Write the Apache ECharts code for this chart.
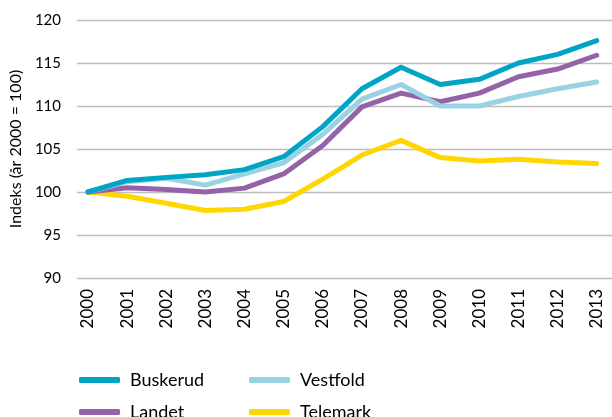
<!DOCTYPE html>
<html>
<head>
<meta charset="utf-8">
<script src="https://cdn.jsdelivr.net/npm/echarts@6/dist/echarts.min.js"></script>
<style>
  html, body { margin: 0; padding: 0; background: #fff; }
  #chart { width: 612px; height: 417px; }
</style>
</head>
<body>
<div id="chart"></div>
<script>
const years = [2000, 2001, 2002, 2003, 2004, 2005, 2006, 2007, 2008, 2009, 2010, 2011, 2012, 2013]
const buskerud = [100, 101.35, 101.7, 102.0, 102.6, 104.1, 107.6, 112.0, 114.5, 112.5, 113.1, 115.0, 116.0, 117.6]
const vestfold = [100, 101.2, 101.6, 100.8, 102.1, 103.4, 106.7, 110.8, 112.5, 110.0, 110.0, 111.1, 112.0, 112.8]
const landet = [100, 100.5, 100.3, 100.0, 100.45, 102.1, 105.4, 109.9, 111.5, 110.5, 111.5, 113.4, 114.3, 115.9]
const telemark = [100, 99.5, 98.7, 97.85, 98.0, 98.9, 101.5, 104.3, 106.0, 104.0, 103.6, 103.8, 103.5, 103.3]
const yTicks = [90, 95, 100, 105, 110, 115, 120]

const font = 'Lato'
const colors = {
  Buskerud: '#00a4c4',
  Vestfold: '#99d3e3',
  Landet: '#9462a8',
  Telemark: '#ffd600'
}

function pairs(vals) {
  return years.map((y, i) => [y, vals[i]])
}

function line(name, vals) {
  return {
    name: name,
    type: 'line',
    data: pairs(vals),
    symbol: 'none',
    lineStyle: { width: 5, color: colors[name], cap: 'round', join: 'round' },
    itemStyle: { color: colors[name] },
    animation: false
  }
}

// one legend per item so the 2x2 grid lines up like the original
function legendItem(name, left, top) {
  return {
    data: [name],
    left: left,
    top: top,
    itemWidth: 41,
    itemHeight: 6,
    icon: 'roundRect',
    textStyle: { fontSize: 18, color: '#000', fontFamily: font, padding: [0, 0, 0, 5] }
  }
}

const chart = echarts.init(document.getElementById('chart'))

chart.setOption({
  textStyle: { fontFamily: font },
  grid: { left: 77, right: 0, top: 20, bottom: 139 },
  xAxis: {
    type: 'value',
    min: 1999.72,
    max: 2013.39,
    splitLine: { show: false },
    axisLine: { show: false },
    axisTick: { show: false },
    axisLabel: {
      customValues: years,
      rotate: 90,
      margin: 11,
      fontSize: 17,
      color: '#000',
      fontFamily: font,
      formatter: v => String(v)
    }
  },
  yAxis: {
    type: 'value',
    min: yTicks[0],
    max: yTicks[yTicks.length - 1],
    interval: 5,
    name: 'Indeks (år 2000 = 100)',
    nameLocation: 'middle',
    nameGap: 47,
    nameTextStyle: { fontSize: 16, color: '#000', fontFamily: font },
    axisLine: { show: false },
    axisTick: { show: false },
    axisLabel: { margin: 16, fontSize: 15, color: '#000', fontFamily: font },
    splitLine: { lineStyle: { color: '#bdbdbd', width: 1.3 } }
  },
  legend: [
    legendItem('Buskerud', 74, 366),
    legendItem('Vestfold', 244, 366),
    legendItem('Landet', 74, 398),
    legendItem('Telemark', 244, 398)
  ],
  series: [
    line('Telemark', telemark),
    line('Landet', landet),
    line('Vestfold', vestfold),
    line('Buskerud', buskerud)
  ]
})
</script>
</body>
</html>
